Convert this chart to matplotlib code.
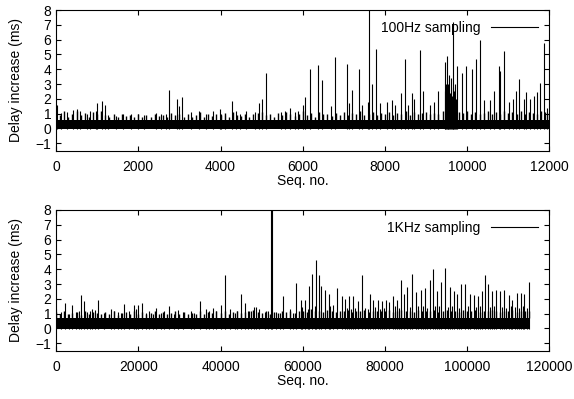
import numpy as np
import matplotlib
matplotlib.use('Agg')
import matplotlib.pyplot as plt

plt.rcParams['font.family'] = ['Liberation Sans', 'DejaVu Sans']
plt.rcParams['font.size'] = 10

# ---- 100Hz sampling (top) ----
top_solid = 0.55          # solid part of the noise band
# upper edge of the noise, every 100 seq
top_noise_x = np.arange(0, 12001, 100)
top_noise_hi = [1.1, 0.9, 1.2, 0.8, 1.0, 1.15, 0.9, 1.05, 0.8, 1.1,
                1.0, 1.15, 0.9, 0.8, 0.95, 0.75, 1.0, 0.85, 0.9, 0.8,
                0.95, 0.8, 0.9, 0.75, 1.0, 0.85, 0.9, 0.8, 1.05, 0.9,
                1.0, 0.8, 0.95, 0.75, 0.9, 1.1, 0.8, 0.95, 0.85, 1.0,
                0.9, 1.05, 0.8, 1.1, 0.9, 0.85, 1.0, 0.8, 0.95, 1.05,
                1.1, 0.9, 1.0, 0.8, 1.05, 0.9, 1.1, 0.95, 0.85, 1.0,
                1.15, 0.9, 1.05, 0.8, 1.1, 0.95, 1.0, 0.85, 1.05, 0.9,
                1.1, 0.9, 1.05, 0.95, 1.15, 0.9, 1.0, 1.1, 0.9, 1.05,
                0.95, 1.1, 0.9, 1.05, 1.0, 1.15, 0.9, 1.1, 0.95, 1.05,
                1.1, 0.95, 1.05, 1.0, 1.2, 2.2, 1.8, 1.4, 1.1, 1.05,
                1.15, 1.0, 1.1, 0.95, 1.05, 1.15, 1.0, 1.1, 0.95, 1.15,
                1.05, 1.1, 1.0, 1.15, 0.95, 1.1, 1.05, 1.0, 1.15, 1.1,
                1.05]
# spikes (seq no., delay)
top_spike_seq = [15, 114, 276, 415, 520, 585, 764, 829, 967, 1008, 1114, 1180,
                 1252, 1455, 1618, 1821, 1984, 2146, 2431, 2553, 2675, 2740,
                 2943, 3000, 3065, 3285, 3488, 3650, 3813, 3976, 4016, 4097,
                 4276, 4382, 4463, 4626, 4829, 4934, 5016, 5114, 5480, 5561,
                 5683, 5805, 5886, 6008, 6049, 6171, 6366, 6471, 6683, 6780,
                 7073, 7130, 7187, 7373, 7450, 7585, 7617, 7675, 7788, 7878,
                 8041, 8163, 8244, 8390, 8488, 8569, 8667, 8716, 8854, 8936,
                 9098, 9180, 9285, 9450, 9470, 9490, 9504, 9520, 9540, 9561,
                 9580, 9610, 9630, 9650, 9665, 9680, 9706, 9720, 9763, 9878,
                 9976, 10114, 10211, 10300, 10397, 10561, 10659, 10764, 10805,
                 10886, 11008, 11114, 11187, 11268, 11374, 11439, 11537, 11618,
                 11700, 11764, 11866, 11950]
top_spike_val = [1.6, 1.05, 1.1, 1.25, 1.3, 1.2, 1.0, 1.15, 1.2, 1.7, 1.85, 1.6,
                 0.9, 0.85, 1.0, 1.0, 0.95, 0.9, 1.05, 0.95, 1.0, 2.6,
                 2.0, 1.5, 2.1, 1.1, 1.2, 0.95, 1.2, 1.3, 1.0, 0.9,
                 1.85, 1.2, 1.0, 1.2, 1.1, 1.75, 1.96, 3.75, 1.1, 1.2,
                 1.35, 1.1, 1.2, 1.6, 2.1, 4.0, 4.27, 3.26, 1.5, 4.8,
                 4.38, 1.7, 2.6, 4.04, 1.6, 1.8, 9.0, 3.0, 5.4, 1.7,
                 1.8, 1.9, 1.6, 2.4, 4.66, 1.6, 2.4, 2.0, 5.27, 2.5,
                 1.6, 1.8, 2.5, 2.5, 4.5, 3.0, 4.9, 2.6, 3.0, 3.6,
                 2.4, 3.4, 2.2, 2.8, 7.2, 2.5, 3.0, 2.0, 4.2, 3.75,
                 4.25, 4.0, 4.66, 6.0, 1.9, 1.9, 2.5, 4.25, 3.86,
                 5.23, 1.8, 2.0, 2.5, 3.36, 2.0, 2.45, 2.0, 2.2,
                 2.45, 3.1, 5.8, 1.4]

# ---- 1KHz sampling (bottom) ----
bot_solid = 0.7
bot_noise_x = np.arange(0, 115001, 1000)
bot_noise_hi = [1.1, 1.0, 1.2, 0.95, 1.05, 1.1, 0.9, 1.15, 1.0, 1.1,
                1.05, 0.95, 1.1, 1.0, 1.15, 0.9, 1.05, 1.1, 0.95, 1.15,
                1.0, 1.1, 0.95, 1.05, 1.2, 1.0, 1.1, 0.95, 1.05, 1.15,
                1.0, 1.1, 0.95, 1.05, 1.0, 1.15, 0.95, 1.1, 1.05, 1.2,
                1.05, 1.15, 1.0, 1.1, 1.2, 1.05, 1.1, 1.15, 1.25, 1.1,
                1.05, 1.15, 1.0, 1.1, 1.05, 1.15, 1.1, 1.2, 1.05, 1.15,
                1.2, 1.1, 1.3, 1.15, 1.2, 1.1, 1.25, 1.15, 1.1, 1.2,
                1.15, 1.25, 1.1, 1.2, 1.15, 1.25, 1.1, 1.2, 1.15, 1.2,
                1.15, 1.25, 1.1, 1.2, 1.25, 1.15, 1.2, 1.1, 1.25, 1.15,
                1.2, 1.15, 1.25, 1.1, 1.2, 1.25, 1.15, 1.2, 1.1, 1.25,
                1.15, 1.2, 1.25, 1.1, 1.2, 1.15, 1.25, 1.2, 1.1, 1.2,
                1.15, 1.25, 1.1, 1.2, 1.15, 1.2]
bot_spike_seq = [0, 1140, 2120, 3170, 3980, 4800, 5610, 6170, 6830, 7640, 8290,
                 8860, 9430, 10170, 11700, 13330, 14150, 14960, 15770, 16590,
                 17800, 18860, 19430, 19920, 20900, 21870, 22680, 23500, 24310,
                 25530, 26340, 27560, 28780, 29760, 30810, 32850, 33660, 35040,
                 36500, 37320, 38130, 38940, 40170, 40970, 42200, 43420, 44070,
                 45050, 45850, 46670, 47490, 48130, 48700, 49350, 50730, 51540,
                 52250, 52400, 53580, 54390, 55200, 56830, 57640, 58460, 59510,
                 59840, 60490, 61300, 61540, 62360, 62930, 63340, 63970, 64380,
                 65370, 66340, 66580, 67470, 68370, 69430, 70240, 70650, 71300,
                 71700, 72280, 72680, 73330, 74320, 75120, 75940, 76340, 77150,
                 77560, 78220, 78790, 79190, 79760, 80250, 81060, 81870, 82360,
                 82850, 83330, 83830, 84640, 85450, 86100, 86590, 87490, 88130,
                 88700, 89190, 89760, 90330, 90850, 91700, 92200, 92600, 93010,
                 93590, 94630, 95210, 95700, 96260, 96670, 97480, 97970, 98460,
                 99510, 100090, 100570, 101540, 102040, 102520, 103010, 103500,
                 104230, 105040, 105450, 105940, 106590, 107080, 108050, 108540,
                 109020, 109520, 110080, 110650, 110970, 111630, 112110, 112680,
                 113080, 113580, 113900, 114550, 114960]
bot_spike_val = [1.3, 1.1, 1.7, 1.0, 1.6, 1.1, 1.2, 2.24, 1.83, 1.1, 1.2,
                 1.3, 1.25, 1.94, 1.05, 1.3, 1.2, 1.1, 1.05, 1.64,
                 1.15, 1.6, 1.3, 1.6, 1.7, 1.05, 1.15, 1.0, 1.4,
                 1.05, 1.2, 1.5, 1.0, 1.25, 1.1, 1.15, 1.05, 1.83,
                 1.3, 1.15, 1.35, 1.2, 1.6, 3.6, 1.3, 1.05, 1.15,
                 2.33, 1.7, 1.15, 1.2, 1.45, 1.45, 1.3, 1.1, 1.2,
                 9.0, 9.0, 1.1, 1.05, 2.2, 1.3, 1.05, 3.1, 1.94,
                 1.45, 1.94, 1.3, 2.85, 3.7, 1.55, 4.6, 3.6, 2.85,
                 2.6, 2.33, 1.5, 1.6, 2.74, 2.2, 1.97, 1.4, 2.2,
                 1.3, 2.2, 1.35, 1.83, 3.6, 1.4, 1.3, 2.33, 1.94,
                 1.45, 1.94, 1.3, 1.83, 1.35, 1.94, 1.8, 2.17, 1.5,
                 1.94, 1.4, 3.24, 2.33, 2.8, 1.45, 3.65, 2.47, 1.5,
                 2.6, 1.55, 2.74, 1.4, 3.24, 4.0, 1.5, 2.55, 1.55,
                 3.13, 4.1, 1.45, 2.78, 1.5, 2.55, 2.33, 1.35, 3.03,
                 2.97, 1.5, 2.33, 2.28, 1.45, 2.2, 1.5, 2.55,
                 3.6, 2.97, 1.45, 2.55, 1.5, 2.6, 2.5, 1.45,
                 2.58, 1.4, 2.28, 1.5, 1.9, 1.45, 2.4, 1.4,
                 2.4, 1.5, 2.33, 1.4, 3.13]

panels = [
    (top_solid, top_noise_x, top_noise_hi, top_spike_seq, top_spike_val,
     12000, 2000, '100Hz sampling'),
    (bot_solid, bot_noise_x, bot_noise_hi, bot_spike_seq, bot_spike_val,
     120000, 20000, '1KHz sampling'),
]

fig = plt.figure(figsize=(5.74, 3.99), dpi=100)
rects = [[0.0976, 0.6223, 0.8597, 0.3526], [0.0976, 0.1211, 0.8597, 0.3526]]

for rect, (solid, nx, nhi, sx, sv, xmax, xstep, label) in zip(rects, panels):
    ax = fig.add_axes(rect)
    ax.fill_between([nx[0], nx[-1]], -0.05, solid, color='black', lw=0)
    ax.vlines(nx, solid, nhi, color='black', lw=1.0)
    ax.vlines(sx, -0.05, sv, color='black', lw=0.8)
    ax.plot([], [], color='black', lw=0.8, label=label)
    ax.set_xlim(0, xmax)
    ax.set_ylim(-1.5, 8)
    ax.set_xticks(np.arange(0, xmax + 1, xstep))
    ax.set_yticks(np.arange(-1, 9, 1))
    ax.tick_params(direction='in', length=3.5, width=0.8, top=True, right=True,
                   labelsize=10)
    ax.tick_params(axis='x', pad=7)
    for s in ax.spines.values():
        s.set_linewidth(0.8)
    ax.set_xlabel('Seq. no.', fontsize=10, labelpad=0)
    ax.set_ylabel('Delay increase (ms)', fontsize=10, labelpad=9)
    ax.legend(loc='upper right', frameon=False, markerfirst=False,
              handlelength=3.4, fontsize=10, borderaxespad=0.4,
              handletextpad=0.8)

fig.savefig('out.png', dpi=100)
